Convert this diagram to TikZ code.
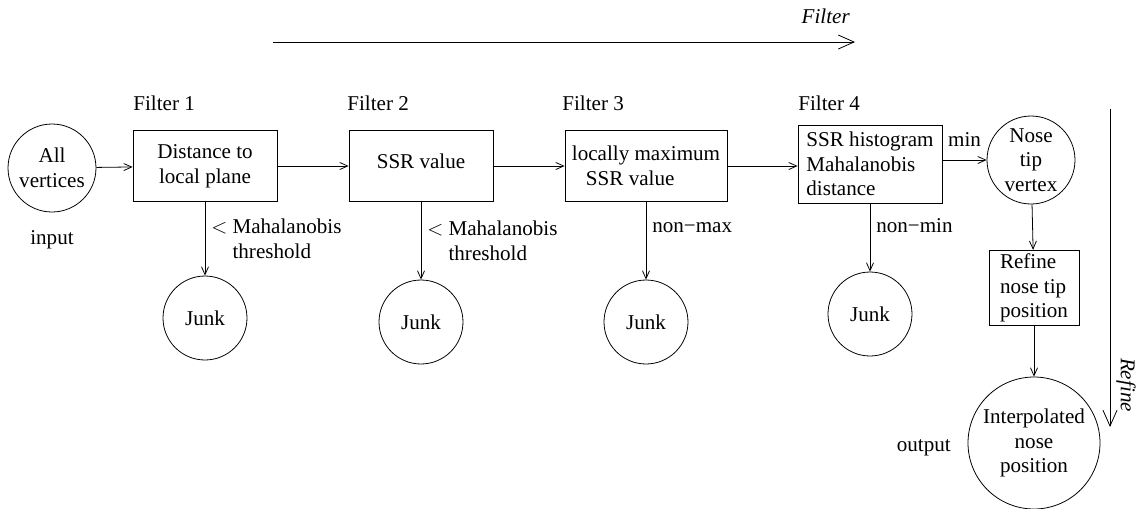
\documentclass[tikz,border=0pt]{standalone}
\usepackage{fontspec}
\setmainfont{Liberation Serif}
\usetikzlibrary{shapes.geometric, arrows.meta}
\tikzstyle{filterbox} = [rectangle, draw, minimum width=2.88cm, minimum height=1.42cm, inner sep=2pt]
\tikzstyle{state} = [circle, draw, minimum size=1.76cm, inner sep=0pt, align=center]
\tikzstyle{junk} = [circle, draw, minimum size=1.68cm, inner sep=0pt]
\tikzstyle{lbl} = [inner sep=0pt, align=left]
\tikzstyle{arrow} = [-{Straight Barb[length=4.5pt,width=4pt]}]
\tikzstyle{bigarrow} = [-{Straight Barb[length=9pt,width=8pt]}]

\begin{document}
\begin{tikzpicture}[x=0.02cm, y=-0.02cm, line width=0.45pt, font=\fontsize{12}{14}\selectfont]
            \useasboundingbox (0,0) rectangle (1137,508);
            % main chain
            \node [state] at (52,168) (all) {All\\vertices};
            \node at (52,240) (input) {input};
            \node [filterbox, align=center] at (205,166) (f1) {Distance to\\local plane};
            \node [filterbox, text depth=6pt] at (421,166) (f2) {SSR value};
            \node [filterbox, minimum width=3.24cm, align=left] at (646,166) (f3) {locally maximum\\\hspace*{8pt}SSR value};
            \node [filterbox, align=left, inner sep=4pt] at (870,164) (f4) {SSR histogram\\Mahalanobis\\distance};
            \node [state] at (1031,160) (nose) {Nose\\tip\\vertex};
            \node [filterbox, minimum width=1.8cm, align=left] at (1034,288) (refine) {Refine\\nose tip\\position};
            \node [state, minimum size=2.64cm] at (1034,443) (interp) {Interpolated\\nose\\position};
            \node [anchor=east] at (957,448) (output) {output};
            % filter titles
            \node [lbl, anchor=west] at (133,103) (t1) {Filter 1};
            \node [lbl, anchor=west] at (347,103) (t2) {Filter 2};
            \node [lbl, anchor=west] at (562,103) (t3) {Filter 3};
            \node [lbl, anchor=west] at (798,103) (t4) {Filter 4};
            % rejected vertices
            \node [junk] at (205,318) (j1) {Junk};
            \node [junk] at (421,322) (j2) {Junk};
            \node [junk] at (646,322) (j3) {Junk};
            \node [junk] at (870,314) (j4) {Junk};
            \draw [arrow] (all) -- (f1);
            \draw [arrow] (f1) -- (f2);
            \draw [arrow] (f2) -- (f3);
            \draw [arrow] (f3.east) -- (f4.west |- f3.east);
            \draw [arrow] (f4.east |- nose) -- node [above=4pt] {min} (nose);
            \draw [arrow] (nose) -- (refine);
            \draw [arrow] (refine) -- (interp);
            \draw [arrow] (f1) -- node [right, align=left] {$<$ Mahalanobis\\\hphantom{$<$ }threshold} (j1);
            \draw [arrow] (f2) -- node [right, align=left] {$<$ Mahalanobis\\\hphantom{$<$ }threshold} (j2);
            \draw [arrow] (f3) -- node [right, pos=0.33] {non−max} (j3);
            \draw [arrow] (f4) -- node [right, pos=0.33] {non−min} (j4);
            % overall direction
            \coordinate (fa) at (273,42);
            \coordinate (fb) at (855,42);
            \draw [bigarrow] (fa) -- (fb);
            \node [anchor=east] at (856,16) (ftext) {\itshape Filter};
            \coordinate (ra) at (1110,109);
            \coordinate (rb) at (1110,427);
            \draw [bigarrow] (ra) -- (rb);
            \node [rotate=-90] at (1126,385) (rtext) {\itshape Refine};
            \end{tikzpicture}
\end{document}
